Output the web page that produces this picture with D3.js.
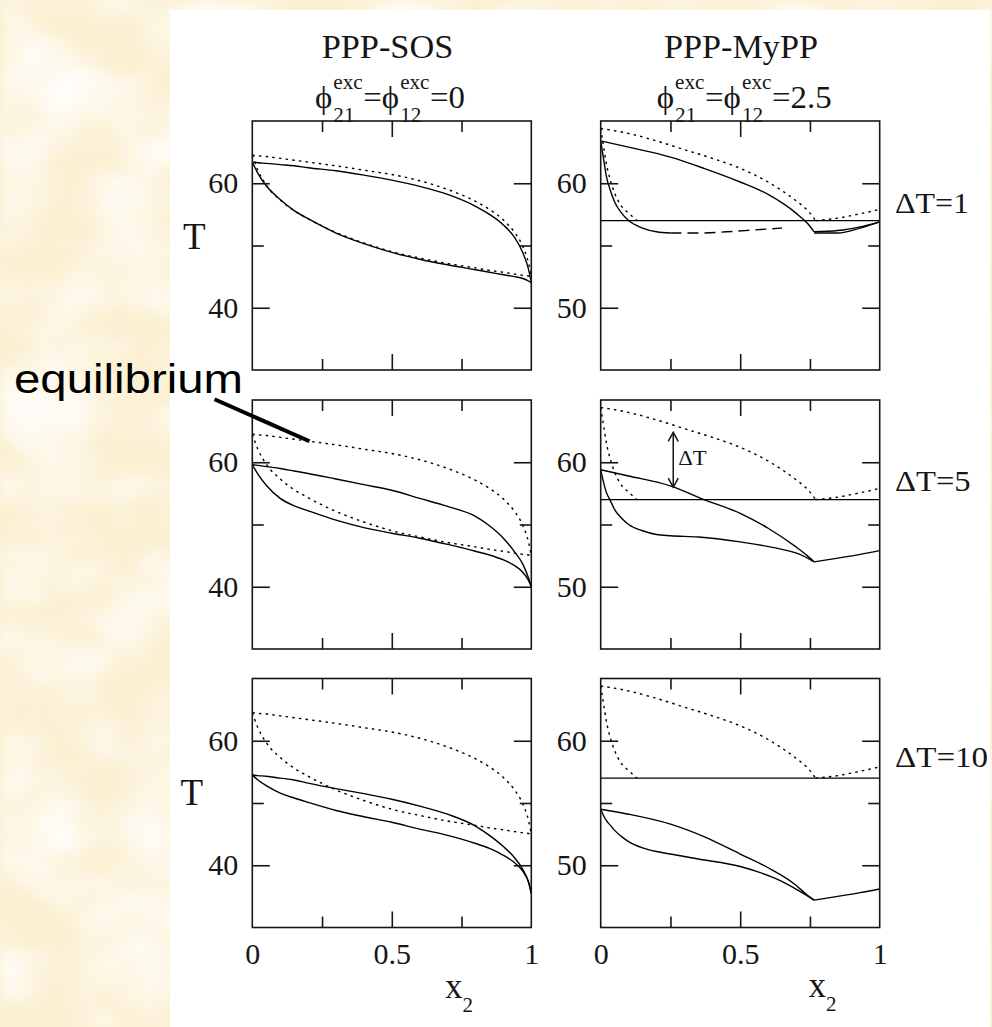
<!DOCTYPE html>
<html>
<head>
<meta charset="utf-8">
<script src="https://cdn.jsdelivr.net/npm/d3@7"></script>
<style>
  html, body { margin: 0; padding: 0; background: #fbf1d6; }
  svg { display: block; }
</style>
</head>
<body>
<svg id="fig" width="992" height="1027"></svg>
<script>
// ---------------- data ----------------
const colTitles = ["PPP-SOS", "PPP-MyPP"];
const phiValues = ["0", "2.5"];
const deltaTs = [1, 5, 10];

// PPP-SOS (phi_exc = 0): equilibrium dew / bubble curves and solid curves per ΔT
const sosX = [0, 0.02, 0.05, 0.1, 0.15, 0.2, 0.3, 0.4, 0.5, 0.6, 0.7, 0.8, 0.85, 0.9, 0.94, 0.97, 0.99, 1];
const sosDewT = [64.5, 64.4, 64.3, 64.0, 63.7, 63.4, 62.8, 62.1, 61.4, 60.4, 59.0, 57.1, 55.8, 54.1, 52.1, 49.8, 47.2, 45.0];
const sosBubT = [64.5, 62.1, 59.7, 57.3, 55.6, 54.3, 52.1, 50.4, 49.0, 48.0, 47.1, 46.4, 46.0, 45.7, 45.4, 45.2, 45.1, 45.0];
const sosUpperT1 = [63.4, 63.3, 63.2, 63.0, 62.8, 62.5, 62.0, 61.3, 60.5, 59.5, 58.2, 56.3, 55.0, 53.3, 51.3, 48.8, 46.2, 44.0];
const sosLowerT1 = [63.4, 61.6, 59.6, 57.4, 55.6, 54.3, 52.0, 50.3, 48.9, 47.8, 46.9, 46.1, 45.7, 45.3, 45.0, 44.7, 44.3, 44.0];
const sosUpperT5 = [59.6, 59.5, 59.3, 59.0, 58.6, 58.2, 57.3, 56.4, 55.5, 54.2, 52.9, 51.3, 49.8, 47.8, 45.6, 43.6, 41.4, 40.0];
const sosLowerT5 = [59.6, 58.1, 56.3, 54.2, 53.0, 52.2, 50.7, 49.5, 48.6, 47.8, 46.8, 45.7, 45.1, 44.3, 43.4, 42.3, 41.0, 40.0];
const sosUpperT10 = [54.5, 54.4, 54.3, 54.0, 53.7, 53.2, 52.3, 51.5, 50.6, 49.5, 48.2, 46.3, 44.8, 43.0, 41.2, 39.3, 37.3, 35.5];
const sosLowerT10 = [54.5, 53.7, 52.8, 51.6, 50.8, 50.1, 48.8, 47.8, 46.9, 45.8, 44.8, 43.5, 42.7, 41.6, 40.4, 39.0, 37.3, 35.5];

// PPP-MyPP (phi_exc = 2.5)
const mypDewX = [0, 0.1, 0.2, 0.3, 0.4, 0.5, 0.6, 0.65, 0.7, 0.75, 0.77, 0.85, 0.92, 1];
const mypDewT = [64.4, 64.0, 63.4, 62.7, 62.0, 61.2, 60.1, 59.4, 58.6, 57.6, 57.0, 57.2, 57.5, 57.9];
const mypBubX = [0, 0.01, 0.02, 0.035, 0.05, 0.07, 0.1, 0.13];
const mypBubT = [64.4, 63.0, 61.6, 60.2, 59.2, 58.3, 57.6, 57.0];
const threePhaseT = 57;
const mypUpperX = [0, 0.1, 0.25, 0.37, 0.5, 0.6, 0.7, 0.74, 0.765, 0.85, 0.93, 1];
const mypUpperT1 = [63.4, 62.9, 62.1, 61.2, 60.1, 59.1, 57.6, 56.8, 56.1, 56.2, 56.5, 56.9];
const mypUpperT5 = [59.4, 58.9, 58.1, 57.0, 55.9, 54.7, 53.2, 52.5, 52.0, 52.3, 52.6, 52.9];
const mypUpperT10 = [54.5, 54.1, 53.3, 52.3, 50.9, 49.8, 48.4, 47.6, 47.2, 47.5, 47.8, 48.1];
const mypLowerX = [0, 0.01, 0.02, 0.035, 0.05, 0.075, 0.1, 0.15, 0.2, 0.25, 0.35, 0.5, 0.63, 0.714, 0.765];
const mypLowerT5 = [59.4, 58.4, 57.6, 56.9, 56.2, 55.5, 55.0, 54.5, 54.2, 54.1, 54.0, 53.6, 53.1, 52.6, 52.0];
const mypLowerT10 = [54.5, 54.0, 53.6, 53.2, 52.8, 52.3, 51.9, 51.4, 51.1, 50.9, 50.5, 49.9, 48.9, 47.9, 47.2];
const mypLowerX1 = [0, 0.01, 0.02, 0.035, 0.05, 0.075, 0.1, 0.15, 0.2, 0.25];
const mypLowerT1 = [63.4, 62.0, 60.6, 59.4, 58.5, 57.6, 57.0, 56.4, 56.1, 56.0];
const mypDashX1 = [0.25, 0.35, 0.45, 0.55, 0.65];
const mypDashT1 = [56.0, 56.0, 56.1, 56.25, 56.4];
const mypTailX1 = [0.765, 0.85, 0.93, 1];
const mypTailT1 = [56.0, 56.0, 56.4, 56.9];

// axis settings
const yDomains = [[30, 70], [45, 65]];
const yMajor = [[40, 60], [50, 60]];
const yMinor = [[50], [55]];
const xLabels = [0, 0.5, 1];
const xMajor = [0.5];
const xMinor = [0.25, 0.75];

// annotation values
const arrowX = 0.26, arrowT = [58.0, 62.4];
const pointerX = 0.205;

// ---------------- layout ----------------
const svg = d3.select("#fig");
const colX = [252.3, 600.7], panelW = 279;
const rowY = [121, 400, 678.5], panelH = 249;
const serif = "'Liberation Serif', 'Times New Roman', Times, serif";
const sans = "'Liberation Sans', Arial, Helvetica, sans-serif";
const ink = "#161616";

// parchment background with a soft mottled texture
const defs = svg.append("defs");
const f1 = defs.append("filter").attr("id", "mottleLight").attr("x", 0).attr("y", 0).attr("width", "100%").attr("height", "100%");
f1.append("feTurbulence").attr("type", "fractalNoise").attr("baseFrequency", "0.011 0.016").attr("numOctaves", 4).attr("seed", 3).attr("result", "n");
f1.append("feColorMatrix").attr("in", "n").attr("type", "matrix")
  .attr("values", "0 0 0 0 1  0 0 0 0 0.98  0 0 0 0 0.94  2.4 0 0 0 -0.9").attr("result", "c");
f1.append("feGaussianBlur").attr("in", "c").attr("stdDeviation", 4);
const f2 = defs.append("filter").attr("id", "mottleDark").attr("x", 0).attr("y", 0).attr("width", "100%").attr("height", "100%");
f2.append("feTurbulence").attr("type", "fractalNoise").attr("baseFrequency", "0.02 0.03").attr("numOctaves", 3).attr("seed", 11).attr("result", "n");
f2.append("feColorMatrix").attr("in", "n").attr("type", "matrix")
  .attr("values", "0 0 0 0 0.96  0 0 0 0 0.9  0 0 0 0 0.72  0 2.2 0 0 -1.2").attr("result", "c");
f2.append("feGaussianBlur").attr("in", "c").attr("stdDeviation", 5);

svg.append("rect").attr("width", 992).attr("height", 1027).attr("fill", "#fbf0d2");
svg.append("rect").attr("width", 992).attr("height", 1027).attr("filter", "url(#mottleLight)");
svg.append("rect").attr("width", 992).attr("height", 1027).attr("filter", "url(#mottleDark)").attr("opacity", 0.2);

// white sheet carrying the figure
svg.append("rect").attr("x", 170).attr("y", 10).attr("width", 820).attr("height", 1017).attr("fill", "#ffffff");

// ---------------- column headers ----------------
const titleWidths = [131.7, 154];
const titleCx = [387.5, 741];
colTitles.forEach((t, i) => {
  svg.append("text").attr("x", titleCx[i]).attr("y", 57.5).attr("text-anchor", "middle")
    .attr("font-family", serif).attr("font-size", 34).attr("fill", ink)
    .attr("textLength", titleWidths[i]).attr("lengthAdjust", "spacingAndGlyphs").text(t);
});

function phiLabel(x0, yBase, value, width) {
  const grp = svg.append("g").attr("font-family", serif).attr("fill", ink);
  let x = 0;
  const main = t => {
    const e = grp.append("text").attr("x", x).attr("y", 0).attr("font-size", 31).text(t);
    x += e.node().getComputedTextLength();
  };
  const scripts = (sub, sup) => {
    const a = grp.append("text").attr("x", x + 1).attr("y", 14).attr("font-size", 20).text(sub);
    const b = grp.append("text").attr("x", x + 1).attr("y", -19).attr("font-size", 20).text(sup);
    x += Math.max(a.node().getComputedTextLength(), b.node().getComputedTextLength()) + 1.5;
  };
  main("\u03D5"); scripts("21", "exc"); main("=\u03D5"); scripts("12", "exc"); main("=" + value);
  grp.attr("transform", `translate(${x0},${yBase}) scale(${width / x},1)`);
}
phiLabel(315, 107.5, phiValues[0], 150);
phiLabel(656.7, 107.5, phiValues[1], 175);

// ---------------- panels ----------------
const solid = { dash: null }, dotted = { dash: "2.5,4.2" }, dashed = { dash: "11,6" };

function curve(xs, ts, style, kink) {
  return { xs, ts, style, kink };
}

const panelCurves = [
  // column 0: PPP-SOS
  [
    [curve(sosX, sosDewT, dotted), curve(sosX, sosBubT, dotted), curve(sosX, sosUpperT1, solid), curve(sosX, sosLowerT1, solid)],
    [curve(sosX, sosDewT, dotted), curve(sosX, sosBubT, dotted), curve(sosX, sosUpperT5, solid), curve(sosX, sosLowerT5, solid)],
    [curve(sosX, sosDewT, dotted), curve(sosX, sosBubT, dotted), curve(sosX, sosUpperT10, solid), curve(sosX, sosLowerT10, solid)]
  ],
  // column 1: PPP-MyPP
  [
    [curve(mypDewX, mypDewT, dotted, 10), curve(mypBubX, mypBubT, dotted), curve(mypUpperX, mypUpperT1, solid, 8),
     curve(mypLowerX1, mypLowerT1, solid), curve(mypDashX1, mypDashT1, dashed), curve(mypTailX1, mypTailT1, solid)],
    [curve(mypDewX, mypDewT, dotted, 10), curve(mypBubX, mypBubT, dotted), curve(mypUpperX, mypUpperT5, solid, 8),
     curve(mypLowerX, mypLowerT5, solid)],
    [curve(mypDewX, mypDewT, dotted, 10), curve(mypBubX, mypBubT, dotted), curve(mypUpperX, mypUpperT10, solid, 8),
     curve(mypLowerX, mypLowerT10, solid)]
  ]
];

const scales = {};
const fontTick = 30;

for (let c = 0; c < 2; c++) {
  for (let r = 0; r < 3; r++) {
    const x0 = colX[c], y0 = rowY[r];
    const xs = d3.scaleLinear().domain([0, 1]).range([x0, x0 + panelW]);
    const ys = d3.scaleLinear().domain(yDomains[c]).range([y0 + panelH, y0]);
    scales[c + "_" + r] = { xs, ys };

    const clipId = `clip${c}${r}`;
    defs.append("clipPath").attr("id", clipId).append("rect")
      .attr("x", x0).attr("y", y0).attr("width", panelW).attr("height", panelH);

    const g = svg.append("g");
    const plot = g.append("g").attr("clip-path", `url(#${clipId})`)
      .attr("fill", "none").attr("stroke", "#000").attr("stroke-width", 1.4);

    const line = d3.line().x(d => xs(d[0])).y(d => ys(d[1])).curve(d3.curveMonotoneX);

    if (c === 1) {
      plot.append("path").datum([[0, threePhaseT], [1, threePhaseT]])
        .attr("d", d3.line().x(d => xs(d[0])).y(d => ys(d[1])));
    }

    panelCurves[c][r].forEach(cv => {
      const pts = cv.xs.map((x, i) => [x, cv.ts[i]]);
      const pieces = cv.kink != null ? [pts.slice(0, cv.kink + 1), pts.slice(cv.kink)] : [pts];
      pieces.forEach(p => {
        const path = plot.append("path").datum(p).attr("d", line);
        if (cv.style.dash) path.attr("stroke-dasharray", cv.style.dash);
      });
    });

    // frame
    g.append("rect").attr("x", x0).attr("y", y0).attr("width", panelW).attr("height", panelH)
      .attr("fill", "none").attr("stroke", ink).attr("stroke-width", 1.6);

    const styleAxis = sel => {
      sel.attr("font-family", serif);
      sel.select(".domain").remove();
      sel.selectAll("line").attr("stroke", ink).attr("stroke-width", 1.6);
      sel.selectAll("text").attr("font-family", serif).attr("font-size", fontTick).attr("fill", ink);
    };

    // y ticks, left (labelled) and right
    g.append("g").attr("transform", `translate(${x0},0)`)
      .call(d3.axisLeft(ys).tickValues(yMajor[c]).tickSizeInner(-17.5).tickSizeOuter(0).tickPadding(14).tickFormat(d3.format("d")))
      .call(styleAxis);
    g.append("g").attr("transform", `translate(${x0},0)`)
      .call(d3.axisLeft(ys).tickValues(yMinor[c]).tickSizeInner(-11.5).tickSizeOuter(0).tickFormat(""))
      .call(styleAxis);
    g.append("g").attr("transform", `translate(${x0 + panelW},0)`)
      .call(d3.axisRight(ys).tickValues(yMajor[c]).tickSizeInner(-17.5).tickSizeOuter(0).tickFormat(""))
      .call(styleAxis);
    g.append("g").attr("transform", `translate(${x0 + panelW},0)`)
      .call(d3.axisRight(ys).tickValues(yMinor[c]).tickSizeInner(-11.5).tickSizeOuter(0).tickFormat(""))
      .call(styleAxis);

    // x ticks, top and bottom
    [[d3.axisTop, y0], [d3.axisBottom, y0 + panelH]].forEach(([ax, yy]) => {
      g.append("g").attr("transform", `translate(0,${yy})`)
        .call(ax(xs).tickValues(xMajor).tickSizeInner(-16).tickSizeOuter(0).tickFormat(""))
        .call(styleAxis);
      g.append("g").attr("transform", `translate(0,${yy})`)
        .call(ax(xs).tickValues(xMinor).tickSizeInner(-11).tickSizeOuter(0).tickFormat(""))
        .call(styleAxis);
    });

    if (r === 2) {
      g.append("g").attr("transform", `translate(0,${y0 + panelH})`)
        .call(d3.axisBottom(xs).tickValues(xLabels).tickSize(0).tickPadding(15).tickFormat(d => d === 0.5 ? "0.5" : String(d)))
        .call(styleAxis);
    }
  }
}

// ---------------- axis titles ----------------
[[183, 248.5], [180.5, 805]].forEach(([x, y]) => {
  svg.append("text").attr("x", x).attr("y", y).attr("font-family", serif).attr("font-size", 37)
    .attr("fill", ink).text("T");
});
[[445, 998], [808.5, 997]].forEach(([x, y]) => {
  const t = svg.append("text").attr("x", x).attr("y", y).attr("font-family", serif).attr("fill", ink);
  t.append("tspan").attr("font-size", 35).text("x");
  t.append("tspan").attr("font-size", 21).attr("dy", 14).text("2");
});

// ΔT row labels
const dtBase = [212.5, 490.7, 766.7];
const dtWidths = [74, 75.7, 93];
deltaTs.forEach((d, i) => {
  svg.append("text").attr("x", 895).attr("y", dtBase[i]).attr("font-family", serif).attr("font-size", 30)
    .attr("fill", ink).attr("textLength", dtWidths[i]).attr("lengthAdjust", "spacingAndGlyphs")
    .text("\u0394T=" + d);
});

// ---------------- annotations ----------------
// double arrow marking the ΔT gap in the middle MyPP panel
{
  const { xs, ys } = scales["1_1"];
  const ax = xs(arrowX), yb = ys(arrowT[0]), yt = ys(arrowT[1]);
  const a = svg.append("g").attr("stroke", ink).attr("stroke-width", 1.5).attr("fill", "none");
  a.append("line").attr("x1", ax).attr("x2", ax).attr("y1", yt).attr("y2", yb);
  a.append("polyline").attr("points", `${ax - 5},${yt + 9} ${ax},${yt} ${ax + 5},${yt + 9}`);
  a.append("polyline").attr("points", `${ax - 5},${yb - 9} ${ax},${yb} ${ax + 5},${yb - 9}`);
  svg.append("text").attr("x", ax + 5).attr("y", 465).attr("font-family", serif).attr("font-size", 21)
    .attr("fill", ink).attr("textLength", 28.5).attr("lengthAdjust", "spacingAndGlyphs").text("\u0394T");
}

// "equilibrium" label pointing at the dew curve of the middle SOS panel
{
  const { xs, ys } = scales["0_1"];
  const dewAt = d3.scaleLinear().domain(sosX).range(sosDewT);
  const ex = xs(pointerX), ey = ys(dewAt(pointerX));
  svg.append("line").attr("x1", ex - 95).attr("y1", ey - 42).attr("x2", ex).attr("y2", ey)
    .attr("stroke", "#000").attr("stroke-width", 4);
  svg.append("text").attr("x", 14).attr("y", 393.3).attr("font-family", sans).attr("font-size", 41)
    .attr("fill", "#000").attr("textLength", 229).attr("lengthAdjust", "spacingAndGlyphs").text("equilibrium");
}
</script>
</body>
</html>
